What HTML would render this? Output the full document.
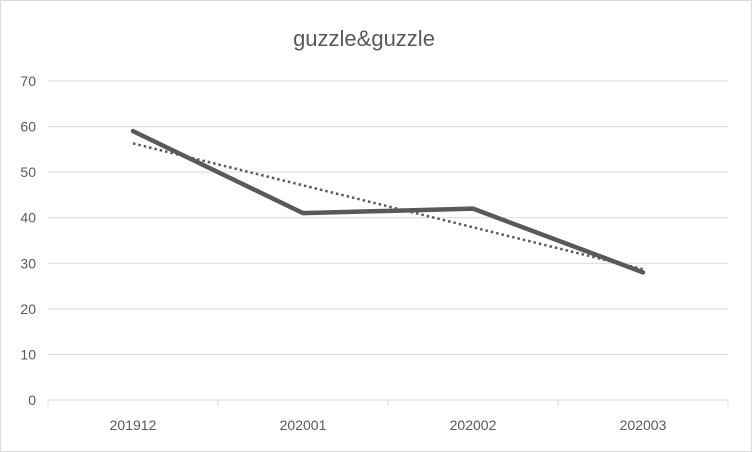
<!DOCTYPE html>
<html><head><meta charset="utf-8"><style>
html,body{margin:0;padding:0;background:#fff;}
svg{display:block;font-family:"Liberation Sans",sans-serif;}
</style></head><body>
<svg id="chart" width="752" height="452">
<rect x="0.5" y="0.5" width="751" height="451" fill="#fff" stroke="#d9d9d9"/>
<text x="364" y="46" text-anchor="middle" font-size="22" fill="#595959">guzzle&amp;guzzle</text>
<g id="grid"></g><g id="axes"></g><g id="series"></g>
</svg>
<script>
const categories = ["201912","202001","202002","202003"];
const values = [59,41,42,28];
const yTicks = [0,10,20,30,40,50,60,70];
const NS="http://www.w3.org/2000/svg";
const L=48,R=728,T=81,B=400,yMax=70;
const bw=(R-L)/categories.length;
const xS=i=>L+bw*(i+0.5);
const yS=v=>B-(v/yMax)*(B-T);
function mk(tag,attrs,parent){const e=document.createElementNS(NS,tag);for(const k in attrs)e.setAttribute(k,attrs[k]);parent.appendChild(e);return e;}
const grid=document.getElementById('grid'),axes=document.getElementById('axes'),series=document.getElementById('series');
yTicks.forEach(t=>{
  const y=yS(t);
  if(t>0){const g=mk('line',{x1:L,x2:R,y1:y,y2:y,stroke:'#d9d9d9','stroke-width':1},grid);
  
  }
  const tx=mk('text',{x:36,y:y+5,'text-anchor':'end','font-size':14,fill:'#595959'},axes);
  tx.textContent=t;
  
  
});
const ax=mk('line',{x1:L,x2:R,y1:B,y2:B,stroke:'#d9d9d9','stroke-width':1},axes);


for(let i=0;i<=categories.length;i++){
  const x=L+bw*i;
  const tk=mk('line',{x1:x,x2:x,y1:B,y2:B+6,stroke:'#d9d9d9'},axes);
  
  
}
categories.forEach((c,i)=>{
  const tx=mk('text',{x:xS(i),y:430,'text-anchor':'middle','font-size':14,fill:'#595959'},axes);
  tx.textContent=c;
  
  
});
// linear trendline from data
const n=values.length,mx=(n-1)/2,my=values.reduce((a,b)=>a+b,0)/n;
let sxy=0,sxx=0;values.forEach((v,i)=>{sxy+=(i-mx)*(v-my);sxx+=(i-mx)*(i-mx);});
const slope=sxy/sxx,inter=my-slope*mx;
const tr=mk('line',{x1:xS(0),y1:yS(inter),x2:xS(n-1),y2:yS(inter+slope*(n-1)),stroke:'#595959','stroke-width':2.5,'stroke-dasharray':'2.5 3'},series);


const pl=mk('polyline',{points:values.map((v,i)=>xS(i)+','+yS(v)).join(' '),fill:'none',stroke:'#595959','stroke-width':4.5,'stroke-linejoin':'round','stroke-linecap':'round'},series);


</script>
</body></html>
